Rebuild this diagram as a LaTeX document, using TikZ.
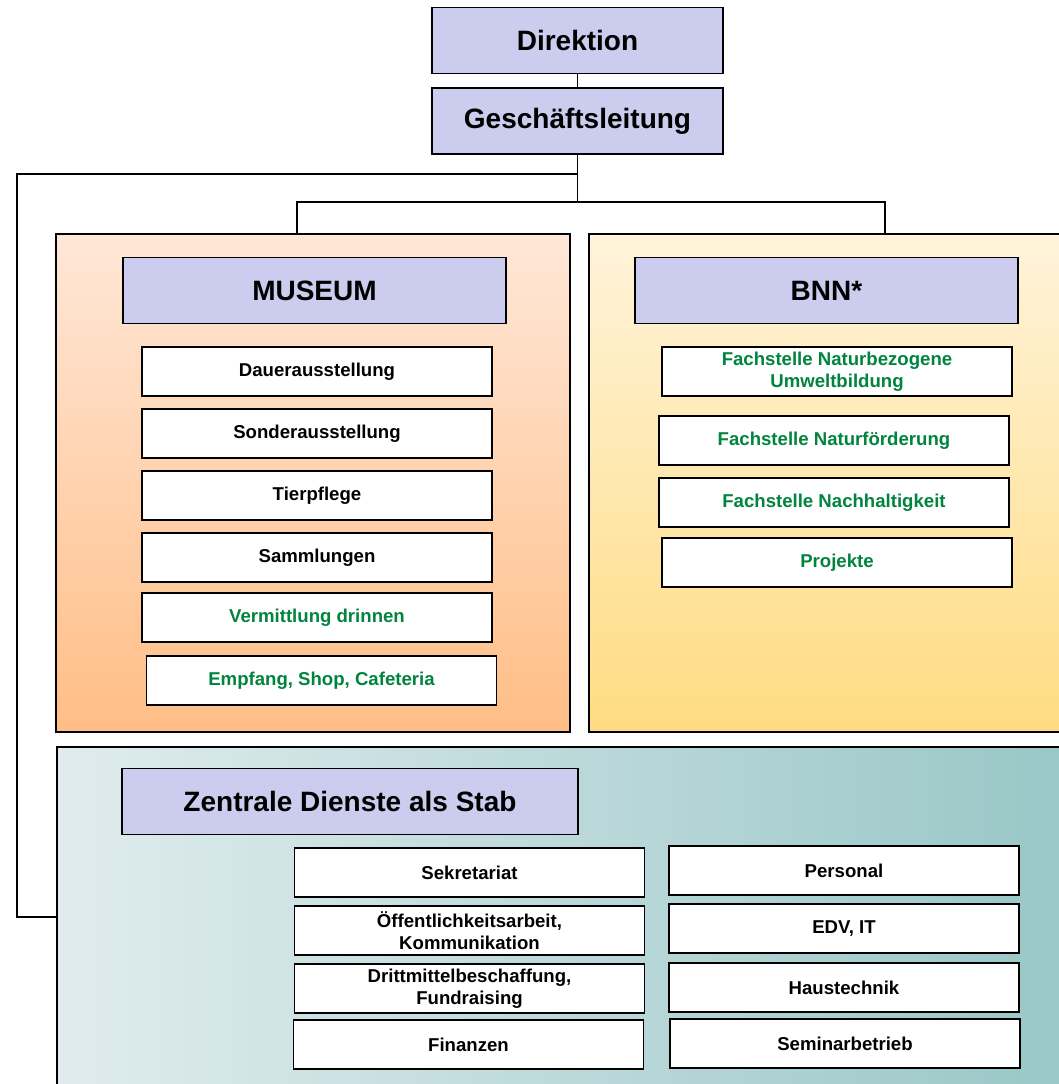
\documentclass[tikz,border=0pt]{standalone}
\usepackage{fontspec}
\setmainfont{Liberation Sans}
\usepackage{tikz}
\usetikzlibrary{positioning, calc}
\definecolor{headfill}{RGB}{204,204,238}
\definecolor{museumtop}{RGB}{255,231,216}
\definecolor{museumbot}{RGB}{255,190,134}
\definecolor{bnntop}{RGB}{255,243,218}
\definecolor{bnnbot}{RGB}{255,220,130}
\definecolor{stableft}{RGB}{224,236,238}
\definecolor{stabright}{RGB}{152,198,198}
\definecolor{fachgreen}{RGB}{0,132,62}
\tikzset{
    base/.style={draw=black, line width=0.9pt, align=center, inner sep=2pt, outer sep=0pt},
    head/.style={base, rectangle, fill=headfill, minimum height=33pt, font=\fontsize{14}{16}\selectfont\bfseries},
    unit/.style={base, rectangle, fill=white, minimum width=175pt, minimum height=24.5pt, font=\fontsize{9.3}{11}\selectfont\bfseries},
    fach/.style={unit, text=fachgreen},
    area/.style={draw=black, line width=0.9pt, rectangle, inner sep=0pt, outer sep=0pt},
    line/.style={draw=black, line width=0.9pt}
}

\begin{document}
\begin{tikzpicture}[x=0.5pt, y=-0.5pt]
    \useasboundingbox (0,0) rectangle (1059,1084);
    \clip (0,0) rectangle (1059,1084);

    % bereiche
    \node [area, top color=museumtop, bottom color=museumbot, minimum width=257pt, minimum height=249pt] (museum) at (313,483) {};
    \node [area, top color=bnntop, bottom color=bnnbot, minimum width=245.5pt, minimum height=249pt] (bnn) at (834.5,483) {};
    \node [area, left color=stableft, right color=stabright, minimum width=511.5pt, minimum height=176.5pt] (stab) at (568.5,923.5) {};

    % leitung
    \node [head, minimum width=145.5pt] (Direktion) at (577.5,40.5) {Direktion};
    \node [head, minimum width=145.5pt] (GL) at (577.5,121) {Geschäftsleitung};

    \coordinate (bar) at (577.5,202);
    \coordinate (museumjoin) at (297,234);
    \coordinate (bnnjoin) at (885,234);
    \coordinate (sidebar) at (17,174);
    \coordinate (stabjoin) at (57,917);

    \path [line] (Direktion) -- (GL);
    \path [line] (GL) -- (bar);
    \path [line] (bar) -| (museumjoin);
    \path [line] (bar) -| (bnnjoin);
    \path [line] (GL.south) |- (sidebar) |- (stabjoin);

    % museum
    \node [head, minimum width=191.5pt] (Museum) at (314.5,290.5) {MUSEUM};
    \node [unit] (Dauer) at (317,371.5) {Dauerausstellung};
    \node [unit, below=6.5pt of Dauer] (Sonder) {Sonderausstellung};
    \node [unit, below=6.5pt of Sonder] (Tier) {Tierpflege};
    \node [unit, below=6.5pt of Tier] (Samm) {Sammlungen};
    \node [fach, below=5.5pt of Samm] (Verm) {Vermittlung drinnen};
    \node [fach, below=7pt of Verm, xshift=2.25pt] (Empfang) {Empfang, Shop, Cafeteria};

    % bnn
    \node [head, minimum width=191.5pt] (BNN) at (826.5,290.5) {BNN*};
    \node [fach] (Umwelt) at (837,371.5) {Fachstelle Naturbezogene\\Umweltbildung};
    \node [fach, below=10pt of Umwelt, xshift=-1.5pt] (Naturf) {Fachstelle Naturförderung};
    \node [fach, below=6.5pt of Naturf] (Nachh) {Fachstelle Nachhaltigkeit};
    \node [fach, below=5.5pt of Nachh, xshift=1.5pt] (Projekte) {Projekte};

    % zentrale dienste
    \node [head, minimum width=228pt] (Zentrale) at (350,801.5) {Zentrale Dienste als Stab};
    \node [unit] (Sekr) at (469.5,872.5) {Sekretariat};
    \node [unit, below=4.5pt of Sekr] (Oeff) {Öffentlichkeitsarbeit,\\Kommunikation};
    \node [unit, below=4.5pt of Oeff] (Dritt) {Drittmittelbeschaffung,\\Fundraising};
    \node [unit, below=3.5pt of Dritt, xshift=-0.5pt] (Finanzen) {Finanzen};
    \node [unit] (Personal) at (844,870.5) {Personal};
    \node [unit, below=4.5pt of Personal] (EDV) {EDV, IT};
    \node [unit, below=5pt of EDV] (Haus) {Haustechnik};
    \node [unit, below=3.5pt of Haus, xshift=0.5pt] (Seminar) {Seminarbetrieb};
\end{tikzpicture}
\end{document}
